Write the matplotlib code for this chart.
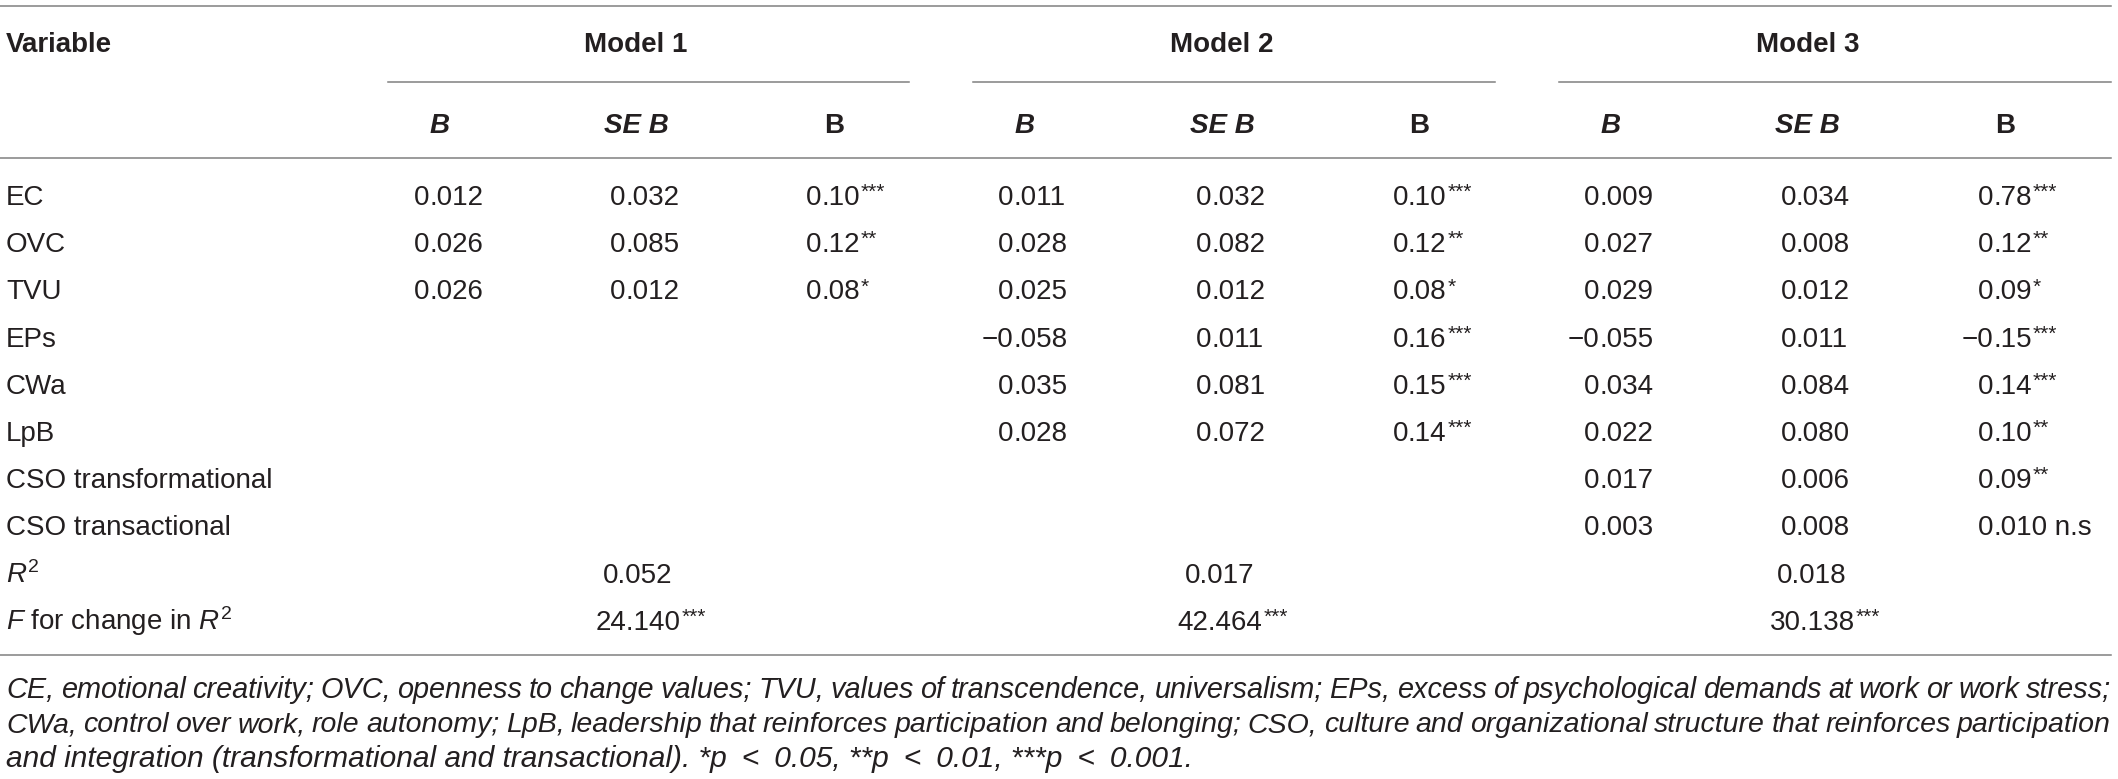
import matplotlib
matplotlib.use("Agg")
import matplotlib.pyplot as plt

plt.rcParams['font.family'] = ['Liberation Sans', 'DejaVu Sans']
plt.rcParams['mathtext.fontset'] = 'custom'
plt.rcParams['mathtext.rm'] = 'Liberation Sans'
plt.rcParams['mathtext.it'] = 'Liberation Sans:italic'
plt.rcParams['mathtext.bf'] = 'Liberation Sans:bold'

# table data
variables = ["EC", "OVC", "TVU", "EPs", "CWa", "LpB",
             "CSO transformational", "CSO transactional"]
models = ["Model 1", "Model 2", "Model 3"]

m1_b = [0.012, 0.026, 0.026]
m1_se = [0.032, 0.085, 0.012]
m1_beta = ["0.10", "0.12", "0.08"]
m1_sig = ["***", "**", "*"]

m2_b = [0.011, 0.028, 0.025, -0.058, 0.035, 0.028]
m2_se = [0.032, 0.082, 0.012, 0.011, 0.081, 0.072]
m2_beta = ["0.10", "0.12", "0.08", "0.16", "0.15", "0.14"]
m2_sig = ["***", "**", "*", "***", "***", "***"]

m3_b = [0.009, 0.027, 0.029, -0.055, 0.034, 0.022, 0.017, 0.003]
m3_se = [0.034, 0.008, 0.012, 0.011, 0.084, 0.080, 0.006, 0.008]
m3_beta = ["0.78", "0.12", "0.09", "\u22120.15", "0.14", "0.10", "0.09", "0.010"]
m3_sig = ["***", "**", "*", "***", "***", "**", "**", " n.s"]

r2 = [0.052, 0.017, 0.018]
f_change = [24.140, 42.464, 30.138]
f_sig = ["***", "***", "***"]

footnote = [
    "CE, emotional creativity; OVC, openness to change values; TVU, values of transcendence, universalism; "
    "EPs, excess of psychological demands at work or work stress;",
    "CWa, control over work, role autonomy; LpB, leadership that reinforces participation and belonging; "
    "CSO, culture and organizational structure that reinforces participation",
    "and integration (transformational and transactional). *p\u2002<\u20020.05, **p\u2002<\u20020.01, "
    "***p\u2002<\u20020.001.",
]

W, H = 2118, 779
TXT = '#231f20'
LINE = '#808080'
FS = 20
FOOT_FS = 21.5

fig = plt.figure(figsize=(W / 100, H / 100), dpi=100)
ax = fig.add_axes([0, 0, 1, 1])
ax.set_xlim(0, W)
ax.set_ylim(H, 0)
ax.axis('off')
renderer = fig.canvas.get_renderer()


def right_edge(t):
    bb = t.get_window_extent(renderer)
    return ax.transData.inverted().transform((bb.x1, bb.y0))[0]


def text_width(t):
    bb = t.get_window_extent(renderer)
    inv = ax.transData.inverted()
    return inv.transform((bb.x1, 0))[0] - inv.transform((bb.x0, 0))[0]


def suffix(x, y, s):
    if not s:
        return
    if s.strip() == "n.s":
        ax.text(x, y, s, ha='left', va='baseline', fontsize=FS, color=TXT)
    else:
        ax.text(x + 1, y - 7, s, ha='left', va='baseline', fontsize=15, color=TXT)


def num_cell(x_dec, y, s, sig=""):
    ip, fp = s.split('.')
    ax.text(x_dec, y, ip, ha='right', va='baseline', fontsize=FS, color=TXT)
    t = ax.text(x_dec, y, '.' + fp, ha='left', va='baseline', fontsize=FS, color=TXT)
    suffix(right_edge(t), y, sig)


def fmt(v, d=3):
    return f"{v:.{d}f}".replace('-', '\u2212')


# rules
ax.plot([0, 2111], [6, 6], color=LINE, lw=1.1)
for x0, x1 in [(388, 909), (973, 1495), (1559, 2111)]:
    ax.plot([x0, x1], [82, 82], color=LINE, lw=1.1)
ax.plot([0, 2111], [158, 158], color=LINE, lw=1.1)
ax.plot([0, 2111], [655, 655], color=LINE, lw=1.1)

# headers
ax.text(6, 52, "Variable", ha='left', va='baseline', fontsize=FS, fontweight='bold', color=TXT)
model_x = [636, 1222, 1808]
for mx, name in zip(model_x, models):
    ax.text(mx, 52, name, ha='center', va='baseline', fontsize=FS, fontweight='bold', color=TXT)

sub_x = [[440, 636, 834], [1025, 1222, 1419], [1611, 1807, 2005]]
for cols in sub_x:
    ax.text(cols[0], 133, "B", ha='center', va='baseline', fontsize=FS,
            fontweight='bold', fontstyle='italic', color=TXT)
    ax.text(cols[1], 133, "SE B", ha='center', va='baseline', fontsize=FS,
            fontweight='bold', fontstyle='italic', color=TXT)
    ax.text(cols[2], 133, "B", ha='center', va='baseline', fontsize=FS,
            fontweight='bold', color=TXT)

# body rows
row0, step = 205, 47.2
row_y = [row0 + step * i for i in range(10)]
for y, name in zip(row_y, variables):
    ax.text(6, y, name, ha='left', va='baseline', fontsize=FS, color=TXT)
ax.text(6, row_y[8], r'$\mathit{R}^{2}$', ha='left', va='baseline', fontsize=FS, color=TXT)
ax.text(6, row_y[9], r'$\mathit{F}$ for change in $\mathit{R}^{2}$', ha='left',
        va='baseline', fontsize=FS, color=TXT)

dec_b = [429, 1013, 1599]
dec_se = [625, 1211, 1796]
dec_beta = [821, 1408, 1993]
model_data = [(m1_b, m1_se, m1_beta, m1_sig),
              (m2_b, m2_se, m2_beta, m2_sig),
              (m3_b, m3_se, m3_beta, m3_sig)]
for k, (bs, ses, betas, sigs) in enumerate(model_data):
    for i in range(len(bs)):
        y = row_y[i]
        num_cell(dec_b[k], y, fmt(bs[i]))
        num_cell(dec_se[k], y, fmt(ses[i]))
        num_cell(dec_beta[k], y, betas[i], sigs[i])

summary_x = [638, 1220, 1812]
for k in range(3):
    ax.text(summary_x[k], row_y[8], fmt(r2[k]), ha='center', va='baseline', fontsize=FS, color=TXT)
    t = ax.text(summary_x[k], row_y[9], fmt(f_change[k]), ha='center', va='baseline',
                fontsize=FS, color=TXT)
    suffix(right_edge(t), row_y[9], f_sig[k])

# footnote, justified like the source
foot_y = [698, 732, 767]
full_w = 2111
for j, (line, y) in enumerate(zip(footnote, foot_y)):
    if j == len(footnote) - 1:
        ax.text(6, y, line, ha='left', va='baseline', fontsize=FOOT_FS,
                fontstyle='italic', color=TXT)
        continue
    words = line.split(' ')
    fs = FOOT_FS
    while True:
        arts = [ax.text(0, y, w, ha='left', va='baseline', fontsize=fs,
                        fontstyle='italic', color=TXT) for w in words]
        widths = [text_width(a) for a in arts]
        gap = (full_w - 6 - sum(widths)) / (len(words) - 1)
        if gap >= 0.2 * fs * 100 / 72:
            break
        for a in arts:
            a.remove()
        fs -= 0.25
    x = 6
    for a, w in zip(arts, widths):
        a.set_x(x)
        x += w + gap

fig.savefig("out.png", dpi=100)
